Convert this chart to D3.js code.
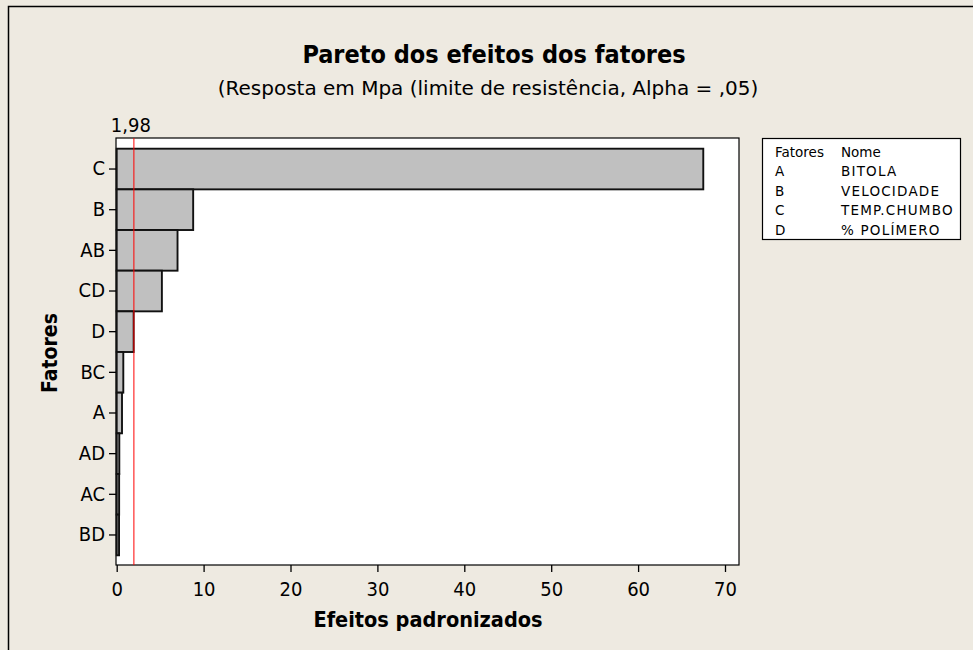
<!DOCTYPE html>
<html>
<head>
<meta charset="utf-8">
<script src="https://cdn.jsdelivr.net/npm/d3@7"></script>
<style>
  html, body { margin: 0; padding: 0; background: #EEEAE1; }
  svg { display: block; }
  text { font-family: "DejaVu Sans Condensed", "DejaVu Sans", sans-serif; fill: #000; }
  .wide { font-family: "DejaVu Sans", sans-serif; }
</style>
</head>
<body>
<svg id="chart" width="973" height="650"></svg>
<script>
// ---- data ----
const factors = ["C", "B", "AB", "CD", "D", "BC", "A", "AD", "AC", "BD"];
const effects = [67.5, 8.8, 7.0, 5.2, 1.95, 0.76, 0.61, 0.3, 0.28, 0.27];
const xTicks = [0, 10, 20, 30, 40, 50, 60, 70];
const criticalValue = 1.98;
const criticalLabel = "1,98";
const legendCodes = ["A", "B", "C", "D"];
const legendNames = ["BITOLA", "VELOCIDADE", "TEMP.CHUMBO", "% POLÍMERO"];
const titleText = "Pareto dos efeitos dos fatores";
const subtitleText = "(Resposta em Mpa (limite de resistência, Alpha = ,05)";
const xTitle = "Efeitos padronizados";
const yTitle = "Fatores";

const svg = d3.select("#chart");

// outer border (left/top)
svg.append("path").attr("d", "M8.5,650 V6.5 H973")
  .attr("fill", "none").attr("stroke", "#000").attr("stroke-width", 1.5);

const frame = {x0: 116, y0: 138, x1: 739, y1: 565};

const x = d3.scaleLinear().domain([0, 70]).range([116.7, 725]);
const y = d3.scaleBand().domain(factors).range([148.7, 555.3]).padding(0);

// plot frame
svg.append("rect").attr("x", frame.x0).attr("y", frame.y0)
  .attr("width", frame.x1 - frame.x0).attr("height", frame.y1 - frame.y0)
  .attr("fill", "#fff").attr("stroke", "#000").attr("stroke-width", 1.2);

// bars
svg.append("g").selectAll("rect").data(factors).join("rect")
  .attr("x", x(0))
  .attr("y", d => y(d))
  .attr("width", (d, i) => x(effects[i]) - x(0))
  .attr("height", y.bandwidth())
  .attr("fill", "#C0C0C0").attr("stroke", "#111").attr("stroke-width", 1.9);

// reference line
svg.append("line")
  .attr("x1", x(criticalValue)).attr("x2", x(criticalValue))
  .attr("y1", frame.y0).attr("y2", frame.y1)
  .attr("stroke", "#FF0000").attr("stroke-width", 1);
svg.append("text").attr("x", x(criticalValue) - 3).attr("y", 132)
  .attr("text-anchor", "middle").style("font-size", "20px").text(criticalLabel);

// x axis
const xAxis = svg.append("g").attr("transform", `translate(0,${frame.y1})`)
  .call(d3.axisBottom(x).tickValues(xTicks).tickSize(7).tickPadding(10).tickFormat(d3.format("d")));
xAxis.select(".domain").remove();
xAxis.selectAll("line").attr("stroke", "#000").attr("stroke-width", 1.3);
xAxis.selectAll("text").style("font-size", "20px");

// y axis
const yAxis = svg.append("g").attr("transform", `translate(${frame.x0},0)`)
  .call(d3.axisLeft(y).tickSize(7).tickPadding(4));
yAxis.select(".domain").remove();
yAxis.selectAll("line").attr("stroke", "#000").attr("stroke-width", 1.3);
yAxis.selectAll("text").style("font-size", "20px");

// titles
svg.append("text").attr("x", 494).attr("y", 63).attr("text-anchor", "middle")
  .style("font-size", "25px").style("font-weight", "bold").text(titleText);
svg.append("text").attr("class", "wide").attr("x", 488).attr("y", 95).attr("text-anchor", "middle")
  .style("font-size", "20px").text(subtitleText);
svg.append("text").attr("x", 428).attr("y", 627).attr("text-anchor", "middle")
  .style("font-size", "21.5px").style("font-weight", "bold").text(xTitle);
svg.append("text").attr("transform", "translate(57,353) rotate(-90)").attr("text-anchor", "middle")
  .style("font-size", "21px").style("font-weight", "bold").text(yTitle);

// legend
const lg = svg.append("g");
lg.append("rect").attr("x", 762.5).attr("y", 138.5).attr("width", 198).attr("height", 101)
  .attr("fill", "#fff").attr("stroke", "#000").attr("stroke-width", 1.2);
const rowY = i => 157 + i * 19.4;
lg.append("text").attr("class", "wide").attr("x", 775).attr("y", rowY(0)).style("font-size", "13.5px").text("Fatores");
lg.append("text").attr("class", "wide").attr("x", 841).attr("y", rowY(0)).style("font-size", "13.5px").text("Nome");
legendCodes.forEach((c, i) => {
  lg.append("text").attr("class", "wide").attr("x", 775).attr("y", rowY(i + 1)).style("font-size", "13.5px").text(c);
  lg.append("text").attr("class", "wide").attr("x", 841).attr("y", rowY(i + 1)).style("font-size", "13.5px")
    .style("letter-spacing", "1.2px").text(legendNames[i]);
});
</script>
</body>
</html>
